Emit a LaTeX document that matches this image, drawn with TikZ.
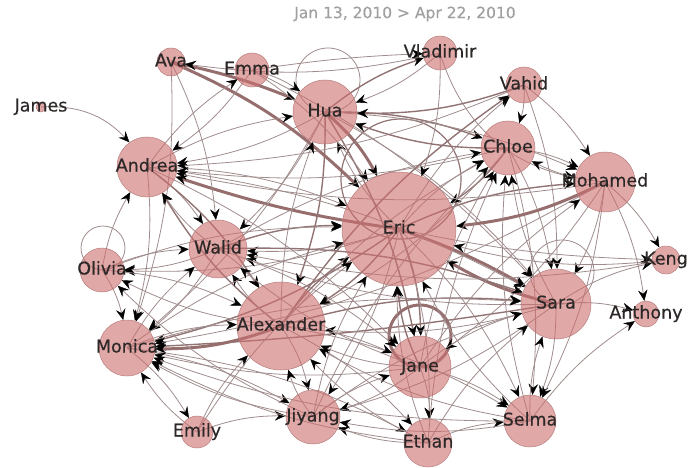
\documentclass[tikz,border=0pt]{standalone}
\usepackage{fontspec}
\newfontfamily\netfont[FakeBold=0.4]{DejaVu Sans}
\usetikzlibrary{arrows.meta}
\definecolor{vfill}{RGB}{205,110,110}
\definecolor{vline}{RGB}{185,125,125}
\definecolor{ethin}{RGB}{160,140,140}
\definecolor{emid}{RGB}{145,115,115}
\definecolor{ethick}{RGB}{150,110,110}
\definecolor{labc}{RGB}{45,40,40}
\definecolor{titlec}{RGB}{160,160,160}
\pgfdeclarelayer{bg}
\pgfsetlayers{bg,main}

\begin{document}
\begin{tikzpicture}[x=1pt,y=-1pt,
 vtx/.style={circle,draw=vline,line width=0.5pt,fill=vfill,fill opacity=0.6,inner sep=0pt,minimum size=#1},
 lbl/.style={font=\netfont\fontsize{17.5}{20}\selectfont,text=labc,inner sep=0pt,text height=12.5pt,text depth=3.5pt},
 e/.style={draw=ethin,line width=0.8pt,-{Stealth[length=11pt,width=9.5pt,inset=4pt,line width=0.4pt,black]},bend left=10},
 em/.style={e,draw=emid,line width=1.4pt},
 et/.style={e,draw=ethick,line width=3pt},
 lp/.style={draw=ethin,line width=0.8pt}]
\useasboundingbox (0,0) rectangle (690,468);
\node[font=\netfont\fontsize{15.5}{18}\selectfont,text=titlec] (title) at (405,14) {Jan 13, 2010 > Apr 22, 2010};
% people
\node[vtx=28pt] (Ava) at (171,62) {};
\node[vtx=34pt] (Emma) at (252,70) {};
\node[vtx=10pt] (James) at (41,107) {};
\node[vtx=64pt] (Hua) at (325,112) {};
\node[vtx=34pt] (Vladimir) at (440,53) {};
\node[vtx=36pt] (Vahid) at (524,85) {};
\node[vtx=54pt] (Chloe) at (508,148) {};
\node[vtx=60pt] (Mohamed) at (605,182) {};
\node[vtx=60pt] (Andrea) at (147,167) {};
\node[vtx=114pt] (Eric) at (399,229) {};
\node[vtx=58pt] (Walid) at (218,249) {};
\node[vtx=44pt] (Olivia) at (102,270) {};
\node[vtx=28pt] (Keng) at (666,260) {};
\node[vtx=70pt] (Sara) at (556,304) {};
\node[vtx=26pt] (Anthony) at (646,314) {};
\node[vtx=88pt] (Alexander) at (281,326) {};
\node[vtx=56pt] (Monica) at (127,348) {};
\node[vtx=62pt] (Jane) at (420,367) {};
\node[vtx=54pt] (Jiyang) at (313,417) {};
\node[vtx=32pt] (Emily) at (197,432) {};
\node[vtx=48pt] (Ethan) at (428,443) {};
\node[vtx=52pt] (Selma) at (530,421) {};
\begin{pgfonlayer}{bg}
% loops
\draw[lp] (Hua.center) ++(3,-32) circle[radius=32pt];
\draw[lp] (Olivia.center) ++(1,-22) circle[radius=22pt];
\draw[lp] (Sara.center) ++(6,-32) circle[radius=32pt];
\draw[lp,draw=emid,line width=1.2pt] (Eric.center) ++(2,-50) circle[radius=60pt];
\draw[lp,draw=ethick,line width=3pt] (Jane.center) ++(0,-31) circle[radius=31pt];
% messages
\path (Eric.center) edge[et,bend left=5] (Sara) edge[et,bend left=5] (Andrea) edge[em] (Jane) edge[em] (Alexander) edge[e] (Walid) edge[em] (Monica) edge[e] (Chloe) edge[em] (Mohamed) edge[e] (Hua) edge[e,bend right=5] (Keng) edge[e] (Selma) edge[e] (Ethan) edge[e] (Jiyang) edge[e] (Vahid) edge[e] (Olivia);
\path (Sara.center) edge[et,bend left=8] (Eric) edge[e] (Anthony) edge[e] (Keng) edge[e] (Chloe) edge[em,bend left=3] (Monica) edge[e] (Jiyang) edge[e] (Selma) edge[e] (Alexander) edge[e] (Walid);
\path (Hua.center) edge[et] (Eric) edge[em] (Alexander) edge[em] (Chloe) edge[e] (Walid) edge[em] (Jane) edge[e] (Sara) edge[em] (Vladimir) edge[e] (Mohamed) edge[e] (Andrea) edge[e] (Monica);
\path (Ava.center) edge[et,bend left=5] (Hua) edge[et] (Eric) edge[e] (Walid) edge[e] (Monica);
\path (Emma.center) edge[e,bend left=3] (Vladimir) edge[e] (Eric) edge[e] (Andrea) edge[e] (Hua) edge[e] (Sara);
\path (Andrea.center) edge[e] (Emma) edge[e] (Hua) edge[e] (Eric) edge[e] (Walid) edge[em] (Alexander) edge[e] (Sara) edge[e] (Monica) edge[e] (Jane);
\path (James.center) edge[e,bend left=25] (Andrea);
\path (Vladimir.center) edge[e,bend left=10] (Ava) edge[e] (Eric) edge[e,bend right=30] (Mohamed) edge[e] (Hua);
\path (Vahid.center) edge[em] (Hua) edge[e] (Mohamed) edge[e] (Sara) edge[e] (Chloe) edge[e] (Andrea);
\path (Chloe.center) edge[em] (Eric) edge[em] (Hua) edge[e] (Mohamed) edge[e] (Sara) edge[e] (Andrea) edge[e] (Alexander) edge[e] (Selma);
\path (Mohamed.center) edge[e] (Chloe) edge[et] (Eric) edge[e] (Sara) edge[e] (Selma) edge[e] (Anthony) edge[e] (Keng) edge[e] (Jane) edge[e] (Andrea) edge[e] (Monica);
\path (Walid.center) edge[em] (Eric) edge[e] (Alexander) edge[e] (Olivia) edge[e] (Andrea) edge[em] (Sara) edge[e] (Monica) edge[e] (Jane) edge[e] (Chloe);
\path (Olivia.center) edge[e] (Monica) edge[e] (Andrea) edge[e] (Eric) edge[e] (Walid) edge[e] (Alexander);
\path (Alexander.center) edge[et] (Monica) edge[em] (Eric) edge[em] (Andrea) edge[em] (Vahid) edge[e] (Jiyang) edge[e] (Olivia) edge[em] (Sara) edge[e] (Ethan) edge[e] (Selma) edge[e] (Hua) edge[e] (Jane) edge[e] (Walid) edge[e] (Chloe);
\path (Monica.center) edge[e] (Emily) edge[e] (Jiyang) edge[e] (Alexander) edge[e] (Eric) edge[e] (Ethan) edge[e] (Walid) edge[e] (Sara);
\path (Jane.center) edge[e] (Ethan) edge[e] (Sara) edge[em] (Eric) edge[e] (Monica) edge[e] (Alexander) edge[e] (Jiyang) edge[e] (Selma) edge[e] (Chloe) edge[e] (Walid) edge[e] (Mohamed);
\path (Jiyang.center) edge[e] (Alexander) edge[e] (Eric) edge[e] (Monica) edge[e] (Sara) edge[e] (Jane) edge[e] (Olivia) edge[e] (Chloe);
\path (Emily.center) edge[e] (Alexander) edge[e] (Jiyang) edge[e] (Monica) edge[e] (Eric);
\path (Ethan.center) edge[e] (Selma) edge[e] (Eric) edge[e] (Jiyang) edge[e] (Monica) edge[e] (Alexander) edge[e] (Sara) edge[e] (Chloe);
\path (Selma.center) edge[e] (Sara) edge[e] (Eric) edge[e] (Anthony) edge[e] (Monica) edge[e] (Jiyang) edge[e] (Chloe) edge[e] (Alexander);
\path (Keng.center) edge[e] (Eric) edge[e] (Walid);
\end{pgfonlayer}
% names
\node[lbl] (tAva) at (Ava) {Ava};
\node[lbl] (tEmma) at (Emma) {Emma};
\node[lbl] (tJames) at (James) {James};
\node[lbl] (tHua) at (Hua) {Hua};
\node[lbl] (tVladimir) at (Vladimir) {Vladimir};
\node[lbl] (tVahid) at (Vahid) {Vahid};
\node[lbl] (tChloe) at (Chloe) {Chloe};
\node[lbl] (tMohamed) at (Mohamed) {Mohamed};
\node[lbl] (tAndrea) at (Andrea) {Andrea};
\node[lbl] (tEric) at (Eric) {Eric};
\node[lbl] (tWalid) at (Walid) {Walid};
\node[lbl] (tOlivia) at (Olivia) {Olivia};
\node[lbl] (tKeng) at (Keng) {Keng};
\node[lbl] (tSara) at (Sara) {Sara};
\node[lbl] (tAnthony) at (Anthony) {Anthony};
\node[lbl] (tAlexander) at (Alexander) {Alexander};
\node[lbl] (tMonica) at (Monica) {Monica};
\node[lbl] (tJane) at (Jane) {Jane};
\node[lbl] (tJiyang) at (Jiyang) {Jiyang};
\node[lbl] (tEmily) at (Emily) {Emily};
\node[lbl] (tEthan) at (Ethan) {Ethan};
\node[lbl] (tSelma) at (Selma) {Selma};
\end{tikzpicture}
\end{document}
